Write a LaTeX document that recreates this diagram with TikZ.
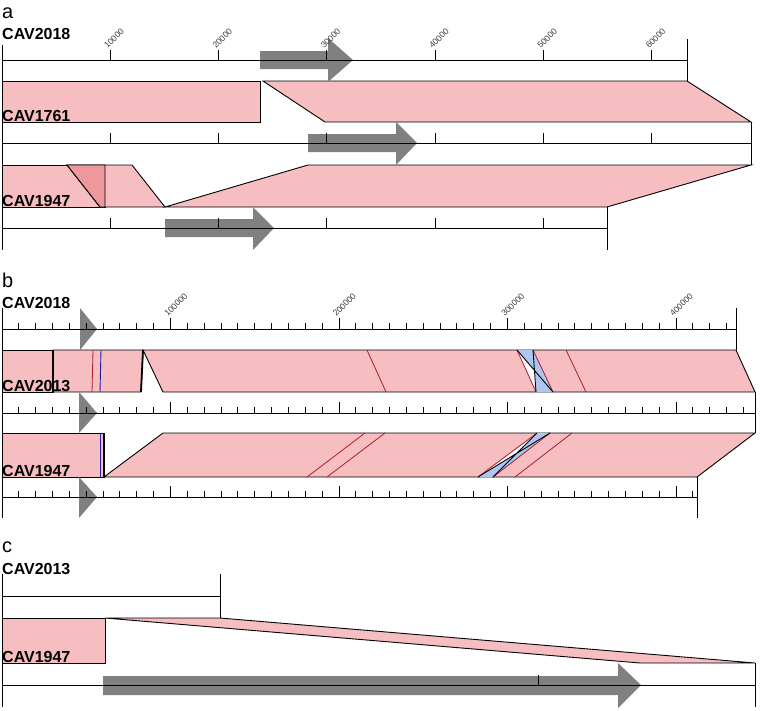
\documentclass[tikz,border=0pt]{standalone}
\usepackage{fontspec}
\setmainfont{Liberation Sans}
\usetikzlibrary{calc}
\definecolor{hitPink}{RGB}{246,190,192}
\definecolor{hitDeep}{RGB}{238,152,158}
\definecolor{invBlue}{RGB}{172,198,240}
\definecolor{hitRed}{RGB}{168,30,40}
\definecolor{hitNavy}{RGB}{30,30,170}
\definecolor{geneGrey}{RGB}{128,128,128}
\definecolor{tickInk}{RGB}{60,60,60}

\begin{document}
\begin{tikzpicture}[x=1pt,y=-1pt,
    hit/.style={fill=hitPink,draw=black,line width=0.9pt},
    seam/.style={draw=black,line width=1.8pt},
    inv/.style={fill=invBlue},
    redhit/.style={draw=hitRed,line width=0.8pt},
    navyhit/.style={draw=hitNavy,line width=0.9pt},
    cross/.style={draw=black,line width=0.9pt},
    gene/.style={fill=geneGrey},
    axis/.style={draw=black,line width=1pt},
    tag/.style={font=\fontsize{16}{18}\selectfont\bfseries,anchor=base west,inner sep=0pt},
    panel/.style={font=\fontsize{20}{22}\selectfont,anchor=base west,inner sep=0pt},
    num/.style={font=\fontsize{8.5}{9}\selectfont,text=tickInk,rotate=45,anchor=south west,inner sep=0.5pt}]

  \useasboundingbox (0,0) rectangle (760,710);

  % ---------- panel a : matches
  \draw[hit] (2,81) -- (260,81) -- (260,122) -- (2,122) -- cycle;
  \draw[hit] (263,81) -- (687,81) -- (751,122) -- (325,122) -- cycle;
  \draw[hit] (2,165) -- (105,165) -- (105,207) -- (2,207) -- cycle;
  \draw[hit] (67,165) -- (132,165) -- (165,207) -- (100,207) -- cycle;
  \draw[hit,fill=hitDeep] (67,165) -- (105,165) -- (105,207) -- (100,207) -- cycle;
  \draw[hit] (308,165) -- (751,165) -- (607,207) -- (165,207) -- cycle;

  % genes
  \fill[gene] (260,51) -- (328,51) -- (328,38) -- (353,60) -- (328,82) -- (328,69) -- (260,69) -- cycle;
  \fill[gene] (308,134) -- (396,134) -- (396,122) -- (417,143) -- (396,165) -- (396,152) -- (308,152) -- cycle;
  \fill[gene] (165,219) -- (253,219) -- (253,207) -- (274,228) -- (253,250) -- (253,237) -- (165,237) -- cycle;

  % rulers
  \draw[axis] (2,45) -- (2,250);
  \draw[axis] (2,60) -- (687,60) (687,39) -- (687,81);
  \draw[axis] (2,143) -- (751,143) (751,122) -- (751,165);
  \draw[axis] (2,228) -- (607,228) (607,207) -- (607,250);
  \foreach \k in {1,...,6} {
    \draw[axis] ({2+108.3*\k},60) -- ++(0,-10);
    \draw[axis] ({2+108.3*\k},143) -- ++(0,-10);
    \node[num] (ta\k) at ({2+108.3*\k-2.5},50) {\k0000};
  }
  \foreach \k in {1,...,5}
    \draw[axis] ({2+108.3*\k},228) -- ++(0,-10);

  % ---------- panel b : matches
  \draw[hit] (2,350) -- (53,350) -- (53,392) -- (2,392) -- cycle;
  \draw[hit] (53,350) -- (143,350) -- (141,392) -- (53,392) -- cycle;
  \draw[hit] (143,350) -- (736,350) -- (755,392) -- (163,392) -- cycle;
  \draw[seam] (53,350) -- (53,392) (143,350) -- (141,392);
  \draw[redhit] (93,350) -- (92,392) (367,350) -- (386,392) (566,350) -- (586,392);
  \draw[navyhit] (101,350) -- (100,392);

  \coordinate (p1) at (517,350);
  \coordinate (p2) at (533,350);
  \coordinate (q1) at (536,392);
  \coordinate (q2) at (553,392);
  \coordinate (px) at (intersection of p1--q2 and p2--q1);
  \fill[inv] (p1) -- (p2) -- (q2) -- (q1) -- cycle;
  \fill[white] (p1) -- (px) -- (q1) -- cycle;
  \draw[redhit] (p1) -- (q1) (p2) -- (q2);
  \draw[cross] (p1) -- (q2) (p2) -- (q1);

  \draw[hit] (2,433) -- (104,433) -- (104,477) -- (2,477) -- cycle;
  \draw[hit] (163,433) -- (755,433) -- (697,477) -- (104,477) -- cycle;
  \draw[seam] (104,433) -- (104,477);
  \draw[navyhit] (100,433) -- (100,477);
  \draw[redhit] (365,433) -- (307,477) (385,433) -- (327,477) (572,433) -- (515,477);

  \coordinate (r1) at (537,433);
  \coordinate (r2) at (550,433);
  \coordinate (s1) at (478,477);
  \coordinate (s2) at (493,477);
  \coordinate (rx) at (intersection of r1--s2 and r2--s1);
  \fill[inv] (r1) -- (r2) -- (s2) -- (s1) -- cycle;
  \fill[white] (r1) -- (rx) -- (s1) -- cycle;
  \draw[redhit] (r1) -- (s1) (r2) -- (s2);
  \draw[cross] (r1) -- (s2) (r2) -- (s1);

  % genes
  \fill[gene] (80,308) -- (97,329) -- (80,350) -- cycle;
  \fill[gene] (79,392) -- (97,413) -- (79,433) -- cycle;
  \fill[gene] (79,477) -- (97,497) -- (79,518) -- cycle;

  % rulers
  \draw[axis] (2,308) -- (2,518);
  \draw[axis] (2,329) -- (736,329) (736,308) -- (736,350);
  \draw[axis] (2,413) -- (755,413) (755,392) -- (755,433);
  \draw[axis] (2,497) -- (697,497) (697,477) -- (697,518);
  \foreach \i in {1,...,43}
    \draw[axis] ({2+16.85*\i},329) -- ++(0,-6);
  \foreach \i in {1,...,44}
    \draw[axis] ({2+16.85*\i},413) -- ++(0,-6);
  \foreach \i in {1,...,41}
    \draw[axis] ({2+16.85*\i},497) -- ++(0,-6);
  \foreach \k in {1,...,4} {
    \draw[axis] ({2+168.5*\k},329) -- ++(0,-11);
    \draw[axis] ({2+168.5*\k},413) -- ++(0,-11);
    \draw[axis] ({2+168.5*\k},497) -- ++(0,-11);
    \node[num] (tb\k) at ({2+168.5*\k-2.5},318) {\k00000};
  }

  % ---------- panel c
  \draw[hit] (2,618) -- (105,618) -- (105,663) -- (2,663) -- cycle;
  \draw[hit] (105,618) -- (220,618) -- (755,663) -- (640,663) -- cycle;
  \fill[gene] (103,676) -- (618,676) -- (618,663) -- (641,685) -- (618,708) -- (618,695) -- (103,695) -- cycle;
  \draw[axis] (2,574) -- (2,707);
  \draw[axis] (2,596) -- (220,596) (220,574) -- (220,618);
  \draw[axis] (2,685) -- (755,685) (755,663) -- (755,707);
  \draw[axis] (538,685) -- ++(0,-10);

  % labels
  \node[panel] (pa) at (2,18) {a};
  \node[tag] (a2018) at (2,39) {CAV2018};
  \node[tag] (a1761) at (2,121) {CAV1761};
  \node[tag] (a1947) at (2,206) {CAV1947};
  \node[panel] (pb) at (2,287) {b};
  \node[tag] (b2018) at (2,308) {CAV2018};
  \node[tag] (b2013) at (2,391) {CAV2013};
  \node[tag] (b1947) at (2,476) {CAV1947};
  \node[panel] (pc) at (2,552) {c};
  \node[tag] (c2013) at (2,574) {CAV2013};
  \node[tag] (c1947) at (2,662) {CAV1947};
\end{tikzpicture}
\end{document}
